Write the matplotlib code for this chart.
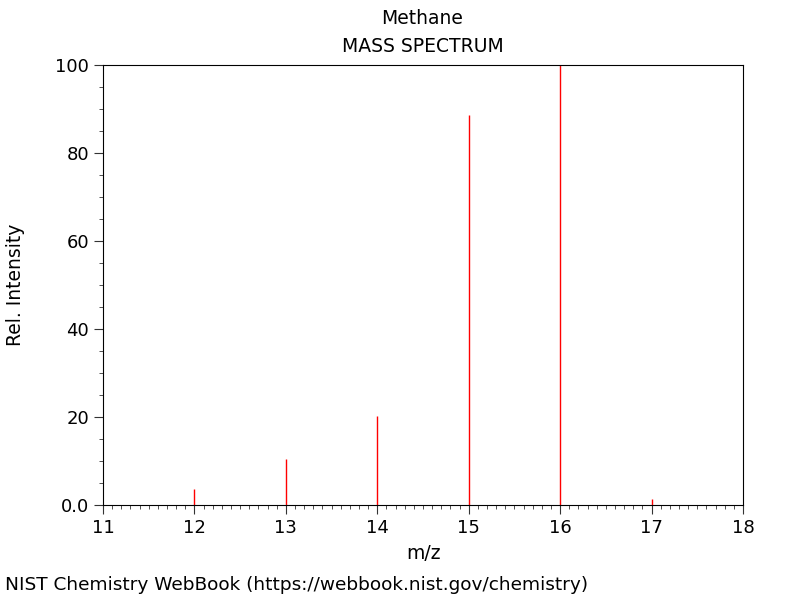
import numpy as np
import matplotlib.pyplot as plt
from matplotlib.ticker import MultipleLocator, FixedFormatter, FixedLocator

mz = [12, 13, 14, 15, 16, 17]
intensity = [3.7, 10.5, 20.2, 88.6, 100.0, 1.4]

fig = plt.figure(figsize=(8, 6), dpi=100)
ax = fig.add_axes([0.12875, 0.1583, 0.8, 0.7334])

ax.vlines(mz, 0, intensity, color='red', lw=1)

ax.set_xlim(11, 18)
ax.set_ylim(0, 100)
ax.xaxis.set_major_locator(MultipleLocator(1))
ax.xaxis.set_minor_locator(MultipleLocator(0.1))
ax.yaxis.set_major_locator(FixedLocator([0, 20, 40, 60, 80, 100]))
ax.yaxis.set_major_formatter(FixedFormatter(['0.0', '20', '40', '60', '80', '100']))
ax.yaxis.set_minor_locator(MultipleLocator(5))
ax.tick_params(axis='both', which='major', direction='out', length=6.5, labelsize=13, color='#333333')
ax.tick_params(axis='both', which='minor', direction='out', length=3, color='#333333')
ax.tick_params(top=False, right=False)

ax.set_xlabel('m/z', fontsize=13.5, labelpad=5)
ax.set_ylabel('Rel. Intensity', fontsize=13.5, labelpad=0)
ax.yaxis.set_label_coords(-0.122, 0.5)

fig.text(0.528, 0.97, 'Methane', ha='center', va='center', fontsize=13.5)
fig.text(0.528, 0.922, 'MASS SPECTRUM', ha='center', va='center', fontsize=13.5)
fig.text(0.006, 0.025, 'NIST Chemistry WebBook (https://webbook.nist.gov/chemistry)',
         ha='left', va='center', fontsize=13.3)

plt.savefig('out.png', dpi=100)
